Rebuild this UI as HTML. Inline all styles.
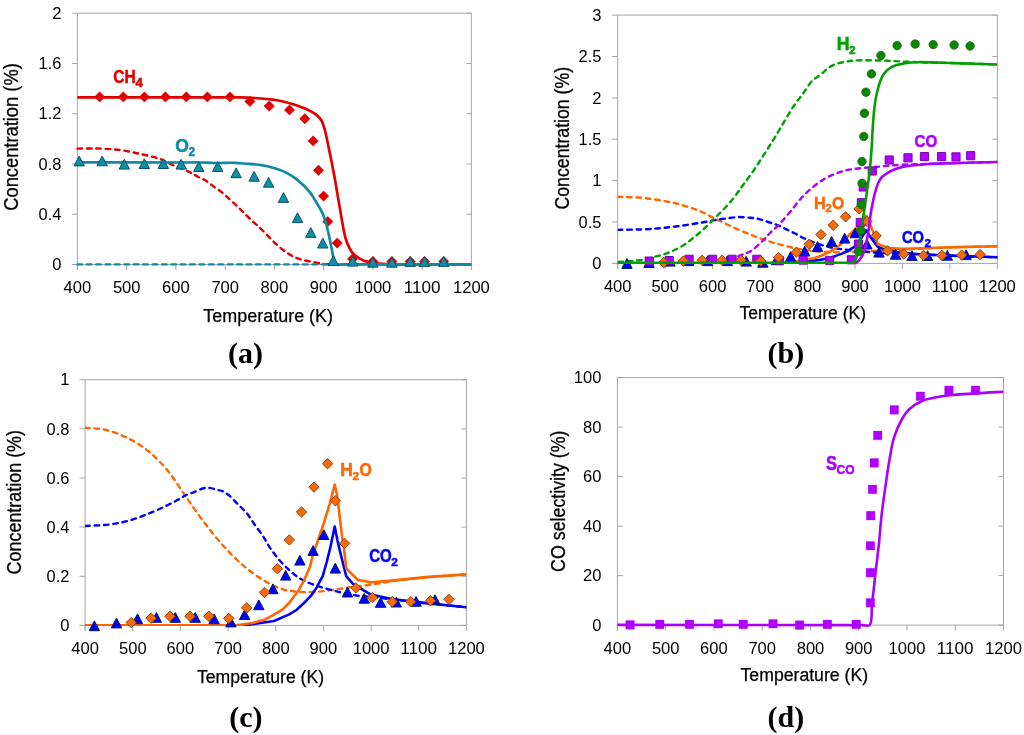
<!DOCTYPE html><html><head><meta charset="utf-8"><style>html,body{margin:0;padding:0;background:#fff;overflow:hidden}svg{display:block;will-change:transform}</style></head><body><svg width="1024" height="735" viewBox="0 0 1024 735" font-family='"Liberation Sans", sans-serif' fill="#000">
<rect width="1024" height="735" fill="#fff"/>
<path d="M77.4,13.2H471.4V264.5" fill="none" stroke="#a6a6a6" stroke-width="1"/>
<path d="M77.4,13.2V270M71.9,264.5H471.4" fill="none" stroke="#a6a6a6" stroke-width="1"/>
<text x="61.4" y="270.1" text-anchor="end" font-size="16" textLength="9.2" lengthAdjust="spacingAndGlyphs">0</text>
<text x="61.4" y="219.9" text-anchor="end" font-size="16" textLength="22.8" lengthAdjust="spacingAndGlyphs">0.4</text>
<text x="61.4" y="169.6" text-anchor="end" font-size="16" textLength="22.8" lengthAdjust="spacingAndGlyphs">0.8</text>
<text x="61.4" y="119.4" text-anchor="end" font-size="16" textLength="22.8" lengthAdjust="spacingAndGlyphs">1.2</text>
<text x="61.4" y="69.1" text-anchor="end" font-size="16" textLength="22.8" lengthAdjust="spacingAndGlyphs">1.6</text>
<text x="61.4" y="18.8" text-anchor="end" font-size="16" textLength="9.2" lengthAdjust="spacingAndGlyphs">2</text>
<text x="77.4" y="293.2" text-anchor="middle" font-size="16" textLength="27.6" lengthAdjust="spacingAndGlyphs">400</text>
<text x="126.7" y="293.2" text-anchor="middle" font-size="16" textLength="27.6" lengthAdjust="spacingAndGlyphs">500</text>
<text x="175.9" y="293.2" text-anchor="middle" font-size="16" textLength="27.6" lengthAdjust="spacingAndGlyphs">600</text>
<text x="225.2" y="293.2" text-anchor="middle" font-size="16" textLength="27.6" lengthAdjust="spacingAndGlyphs">700</text>
<text x="274.4" y="293.2" text-anchor="middle" font-size="16" textLength="27.6" lengthAdjust="spacingAndGlyphs">800</text>
<text x="323.6" y="293.2" text-anchor="middle" font-size="16" textLength="27.6" lengthAdjust="spacingAndGlyphs">900</text>
<text x="372.9" y="293.2" text-anchor="middle" font-size="16" textLength="36.8" lengthAdjust="spacingAndGlyphs">1000</text>
<text x="422.1" y="293.2" text-anchor="middle" font-size="16" textLength="36.8" lengthAdjust="spacingAndGlyphs">1100</text>
<text x="471.4" y="293.2" text-anchor="middle" font-size="16" textLength="36.8" lengthAdjust="spacingAndGlyphs">1200</text>
<path d="M71.9,264.5h5.5M466.4,264.5h5M71.9,214.2h5.5M466.4,214.2h5M71.9,164h5.5M466.4,164h5M71.9,113.7h5.5M466.4,113.7h5M71.9,63.5h5.5M466.4,63.5h5M71.9,13.2h5.5M466.4,13.2h5M77.4,264.5v5.5M126.7,264.5v5.5M175.9,264.5v5.5M225.2,264.5v5.5M274.4,264.5v5.5M323.6,264.5v5.5M372.9,264.5v5.5M422.1,264.5v5.5M471.4,264.5v5.5" fill="none" stroke="#a6a6a6" stroke-width="1"/>
<path d="M617.7,15.1H997.4V263.4" fill="none" stroke="#a6a6a6" stroke-width="1"/>
<path d="M617.7,15.1V268.9M612.2,263.4H997.4" fill="none" stroke="#a6a6a6" stroke-width="1"/>
<text x="601.4" y="269" text-anchor="end" font-size="16" textLength="9.2" lengthAdjust="spacingAndGlyphs">0</text>
<text x="601.4" y="227.7" text-anchor="end" font-size="16" textLength="22.8" lengthAdjust="spacingAndGlyphs">0.5</text>
<text x="601.4" y="186.3" text-anchor="end" font-size="16" textLength="9.2" lengthAdjust="spacingAndGlyphs">1</text>
<text x="601.4" y="144.9" text-anchor="end" font-size="16" textLength="22.8" lengthAdjust="spacingAndGlyphs">1.5</text>
<text x="601.4" y="103.5" text-anchor="end" font-size="16" textLength="9.2" lengthAdjust="spacingAndGlyphs">2</text>
<text x="601.4" y="62.1" text-anchor="end" font-size="16" textLength="22.8" lengthAdjust="spacingAndGlyphs">2.5</text>
<text x="601.4" y="20.7" text-anchor="end" font-size="16" textLength="9.2" lengthAdjust="spacingAndGlyphs">3</text>
<text x="617.7" y="291.6" text-anchor="middle" font-size="16" textLength="27.6" lengthAdjust="spacingAndGlyphs">400</text>
<text x="665.2" y="291.6" text-anchor="middle" font-size="16" textLength="27.6" lengthAdjust="spacingAndGlyphs">500</text>
<text x="712.6" y="291.6" text-anchor="middle" font-size="16" textLength="27.6" lengthAdjust="spacingAndGlyphs">600</text>
<text x="760.1" y="291.6" text-anchor="middle" font-size="16" textLength="27.6" lengthAdjust="spacingAndGlyphs">700</text>
<text x="807.5" y="291.6" text-anchor="middle" font-size="16" textLength="27.6" lengthAdjust="spacingAndGlyphs">800</text>
<text x="855" y="291.6" text-anchor="middle" font-size="16" textLength="27.6" lengthAdjust="spacingAndGlyphs">900</text>
<text x="902.5" y="291.6" text-anchor="middle" font-size="16" textLength="36.8" lengthAdjust="spacingAndGlyphs">1000</text>
<text x="949.9" y="291.6" text-anchor="middle" font-size="16" textLength="36.8" lengthAdjust="spacingAndGlyphs">1100</text>
<text x="997.4" y="291.6" text-anchor="middle" font-size="16" textLength="36.8" lengthAdjust="spacingAndGlyphs">1200</text>
<path d="M612.2,263.4h5.5M992.4,263.4h5M612.2,222h5.5M992.4,222h5M612.2,180.6h5.5M992.4,180.6h5M612.2,139.2h5.5M992.4,139.2h5M612.2,97.9h5.5M992.4,97.9h5M612.2,56.5h5.5M992.4,56.5h5M612.2,15.1h5.5M992.4,15.1h5M617.7,263.4v5.5M665.2,263.4v5.5M712.6,263.4v5.5M760.1,263.4v5.5M807.5,263.4v5.5M855,263.4v5.5M902.5,263.4v5.5M949.9,263.4v5.5M997.4,263.4v5.5" fill="none" stroke="#a6a6a6" stroke-width="1"/>
<path d="M85.1,379.7H466.4V625.4" fill="none" stroke="#a6a6a6" stroke-width="1"/>
<path d="M85.1,379.7V630.9M79.6,625.4H466.4" fill="none" stroke="#a6a6a6" stroke-width="1"/>
<text x="69.4" y="631" text-anchor="end" font-size="16" textLength="9.2" lengthAdjust="spacingAndGlyphs">0</text>
<text x="69.4" y="581.9" text-anchor="end" font-size="16" textLength="22.8" lengthAdjust="spacingAndGlyphs">0.2</text>
<text x="69.4" y="532.8" text-anchor="end" font-size="16" textLength="22.8" lengthAdjust="spacingAndGlyphs">0.4</text>
<text x="69.4" y="483.6" text-anchor="end" font-size="16" textLength="22.8" lengthAdjust="spacingAndGlyphs">0.6</text>
<text x="69.4" y="434.5" text-anchor="end" font-size="16" textLength="22.8" lengthAdjust="spacingAndGlyphs">0.8</text>
<text x="69.4" y="385.3" text-anchor="end" font-size="16" textLength="9.2" lengthAdjust="spacingAndGlyphs">1</text>
<text x="85.1" y="653.6" text-anchor="middle" font-size="16" textLength="27.6" lengthAdjust="spacingAndGlyphs">400</text>
<text x="132.8" y="653.6" text-anchor="middle" font-size="16" textLength="27.6" lengthAdjust="spacingAndGlyphs">500</text>
<text x="180.4" y="653.6" text-anchor="middle" font-size="16" textLength="27.6" lengthAdjust="spacingAndGlyphs">600</text>
<text x="228.1" y="653.6" text-anchor="middle" font-size="16" textLength="27.6" lengthAdjust="spacingAndGlyphs">700</text>
<text x="275.8" y="653.6" text-anchor="middle" font-size="16" textLength="27.6" lengthAdjust="spacingAndGlyphs">800</text>
<text x="323.4" y="653.6" text-anchor="middle" font-size="16" textLength="27.6" lengthAdjust="spacingAndGlyphs">900</text>
<text x="371.1" y="653.6" text-anchor="middle" font-size="16" textLength="36.8" lengthAdjust="spacingAndGlyphs">1000</text>
<text x="418.7" y="653.6" text-anchor="middle" font-size="16" textLength="36.8" lengthAdjust="spacingAndGlyphs">1100</text>
<text x="466.4" y="653.6" text-anchor="middle" font-size="16" textLength="36.8" lengthAdjust="spacingAndGlyphs">1200</text>
<path d="M79.6,625.4h5.5M461.4,625.4h5M79.6,576.3h5.5M461.4,576.3h5M79.6,527.1h5.5M461.4,527.1h5M79.6,478h5.5M461.4,478h5M79.6,428.8h5.5M461.4,428.8h5M79.6,379.7h5.5M461.4,379.7h5M85.1,625.4v5.5M132.8,625.4v5.5M180.4,625.4v5.5M228.1,625.4v5.5M275.8,625.4v5.5M323.4,625.4v5.5M371.1,625.4v5.5M418.7,625.4v5.5M466.4,625.4v5.5" fill="none" stroke="#a6a6a6" stroke-width="1"/>
<path d="M617.4,377.6H1003.5V625.1" fill="none" stroke="#a6a6a6" stroke-width="1"/>
<path d="M617.4,377.6V630.6M617.4,625.1H1003.5" fill="none" stroke="#a6a6a6" stroke-width="1"/>
<text x="601.4" y="630.8" text-anchor="end" font-size="16" textLength="9.2" lengthAdjust="spacingAndGlyphs">0</text>
<text x="601.4" y="581.2" text-anchor="end" font-size="16" textLength="18.4" lengthAdjust="spacingAndGlyphs">20</text>
<text x="601.4" y="531.8" text-anchor="end" font-size="16" textLength="18.4" lengthAdjust="spacingAndGlyphs">40</text>
<text x="601.4" y="482.2" text-anchor="end" font-size="16" textLength="18.4" lengthAdjust="spacingAndGlyphs">60</text>
<text x="601.4" y="432.8" text-anchor="end" font-size="16" textLength="18.4" lengthAdjust="spacingAndGlyphs">80</text>
<text x="601.4" y="383.2" text-anchor="end" font-size="16" textLength="27.6" lengthAdjust="spacingAndGlyphs">100</text>
<text x="617.4" y="653.6" text-anchor="middle" font-size="16" textLength="27.6" lengthAdjust="spacingAndGlyphs">400</text>
<text x="665.7" y="653.6" text-anchor="middle" font-size="16" textLength="27.6" lengthAdjust="spacingAndGlyphs">500</text>
<text x="713.9" y="653.6" text-anchor="middle" font-size="16" textLength="27.6" lengthAdjust="spacingAndGlyphs">600</text>
<text x="762.2" y="653.6" text-anchor="middle" font-size="16" textLength="27.6" lengthAdjust="spacingAndGlyphs">700</text>
<text x="810.5" y="653.6" text-anchor="middle" font-size="16" textLength="27.6" lengthAdjust="spacingAndGlyphs">800</text>
<text x="858.7" y="653.6" text-anchor="middle" font-size="16" textLength="27.6" lengthAdjust="spacingAndGlyphs">900</text>
<text x="907" y="653.6" text-anchor="middle" font-size="16" textLength="36.8" lengthAdjust="spacingAndGlyphs">1000</text>
<text x="955.2" y="653.6" text-anchor="middle" font-size="16" textLength="36.8" lengthAdjust="spacingAndGlyphs">1100</text>
<text x="1003.5" y="653.6" text-anchor="middle" font-size="16" textLength="36.8" lengthAdjust="spacingAndGlyphs">1200</text>
<path d="M617.4,625.1h5.5M998.5,625.1h5M617.4,575.6h5.5M998.5,575.6h5M617.4,526.1h5.5M998.5,526.1h5M617.4,476.6h5.5M998.5,476.6h5M617.4,427.1h5.5M998.5,427.1h5M617.4,377.6h5.5M998.5,377.6h5M617.4,625.1v5.5M665.7,625.1v5.5M713.9,625.1v5.5M762.2,625.1v5.5M810.5,625.1v5.5M858.7,625.1v5.5M907,625.1v5.5M955.2,625.1v5.5M1003.5,625.1v5.5" fill="none" stroke="#a6a6a6" stroke-width="1"/>
<text transform="translate(17.8,137) rotate(-90)" text-anchor="middle" font-size="19.5" stroke="#000" stroke-width="0.3" textLength="147.5" lengthAdjust="spacingAndGlyphs">Concentration (%)</text>
<text transform="translate(568.8,138.2) rotate(-90)" text-anchor="middle" font-size="19.5" stroke="#000" stroke-width="0.3" textLength="142.6" lengthAdjust="spacingAndGlyphs">Concentration (%)</text>
<text transform="translate(20.8,502.2) rotate(-90)" text-anchor="middle" font-size="19.5" stroke="#000" stroke-width="0.3" textLength="144.4" lengthAdjust="spacingAndGlyphs">Concentration (%)</text>
<text transform="translate(565,501.2) rotate(-90)" text-anchor="middle" font-size="19.5" stroke="#000" stroke-width="0.3" textLength="141.4" lengthAdjust="spacingAndGlyphs">CO selectivity (%)</text>
<text x="268.2" y="321.6" text-anchor="middle" font-size="18" stroke="#000" stroke-width="0.25" textLength="129.7" lengthAdjust="spacingAndGlyphs">Temperature (K)</text>
<text x="802.8" y="318.8" text-anchor="middle" font-size="18" stroke="#000" stroke-width="0.25" textLength="126.6" lengthAdjust="spacingAndGlyphs">Temperature (K)</text>
<text x="260.5" y="683.1" text-anchor="middle" font-size="18" stroke="#000" stroke-width="0.25" textLength="127.2" lengthAdjust="spacingAndGlyphs">Temperature (K)</text>
<text x="804.3" y="681.2" text-anchor="middle" font-size="18" stroke="#000" stroke-width="0.25" textLength="127.5" lengthAdjust="spacingAndGlyphs">Temperature (K)</text>
<text x="245.6" y="362.5" text-anchor="middle" font-family='"Liberation Serif", serif' font-weight="bold" font-size="30">(a)</text>
<text x="785.8" y="362.5" text-anchor="middle" font-family='"Liberation Serif", serif' font-weight="bold" font-size="30">(b)</text>
<text x="245.8" y="726.6" text-anchor="middle" font-family='"Liberation Serif", serif' font-weight="bold" font-size="30">(c)</text>
<text x="785.8" y="726.6" text-anchor="middle" font-family='"Liberation Serif", serif' font-weight="bold" font-size="30">(d)</text>
<g>
<path d="M77.4,148.6C85.2,148.6 93.3,148.3 100.8,148.6C107.9,148.9 114.5,149.3 121.3,150.2C128.2,151.2 135.2,152.8 141.8,154.3C148.1,155.7 154.6,157.1 160,159C164.6,160.6 167.8,162.8 172.2,164.7C177.2,166.9 184.1,169.4 188.6,171.6C191.8,173.2 193.9,174.6 196.7,176.1C199.6,177.6 202.8,178.8 205.7,180.6C208.6,182.4 211.2,184.7 213.9,186.7C216.6,188.7 219.4,190.3 222,192.4C224.8,194.6 227.5,197.4 230.2,199.8C232.7,202.1 235.4,204.5 237.6,206.6C239.5,208.4 240.9,209.8 242.8,211.7C245.1,214 248,217 250.6,219.5C253.2,221.9 255.7,223.9 258.4,226.4C261.5,229.3 265,232.9 268.2,236.1C271.2,239.1 273.9,242.1 277,244.9C280.1,247.7 283.5,250.5 286.8,252.7C289.7,254.7 292.6,256.3 295.5,257.6C298.1,258.7 300.6,259.4 303.4,260.1C306.4,260.9 309.9,261.4 313.1,262C316.4,262.6 319.2,263.4 322.9,263.8C327.8,264.3 334.3,264.1 340,264.3" fill="none" stroke="#e00000" stroke-width="2.4" stroke-linejoin="round" stroke-dasharray="4.6 4.8" stroke-linecap="round"/>
<path d="M77.4,264.4L471.4,264.4" fill="none" stroke="#0e8aa3" stroke-width="2.4" stroke-linejoin="round" stroke-dasharray="4.6 4.8" stroke-linecap="round"/>
<path d="M77.4,97.3C128.3,97.3 209.3,97.4 230,97.4C235.3,97.4 236.1,97.3 240,97.4C245.7,97.5 255,98 261,98.5C265.5,98.8 268.9,99.2 272.7,99.7C276.3,100.2 279.5,100.7 283,101.5C286.6,102.3 290.3,103.3 293.9,104.5C297.6,105.7 301.3,106.9 305,108.6C308.9,110.4 313.8,112.7 316.7,115.1C318.9,116.9 320.3,118.6 321.6,120.8C323,123.2 323.7,125.8 324.6,129C325.9,133.5 326.9,138.9 328.2,145.3C330.1,154.3 332.7,167.2 334.7,178C336.6,188.5 338.1,198.7 340,209C341.9,219.4 343.5,232.4 346.2,240.3C348.1,245.6 349.6,249.4 352.5,252.8C355.3,256.1 359.4,258.8 363.4,260.6C367.3,262.3 371.1,262.8 376,263.4C382.7,264.3 389.9,264.1 400,264.3C417.5,264.7 447.6,264.4 471.4,264.5" fill="none" stroke="#e00000" stroke-width="2.7" stroke-linejoin="round" stroke-linecap="butt"/>
<path d="M99.7,91.7l5.2,5.2l-5.2,5.2l-5.2,-5.2ZM123.3,91.7l5.2,5.2l-5.2,5.2l-5.2,-5.2ZM144.4,91.7l5.2,5.2l-5.2,5.2l-5.2,-5.2ZM165.4,91.7l5.2,5.2l-5.2,5.2l-5.2,-5.2ZM186.3,91.7l5.2,5.2l-5.2,5.2l-5.2,-5.2ZM207.4,91.7l5.2,5.2l-5.2,5.2l-5.2,-5.2ZM230,91.7l5.2,5.2l-5.2,5.2l-5.2,-5.2ZM249.9,96.2l5.2,5.2l-5.2,5.2l-5.2,-5.2ZM269.2,100.9l5.2,5.2l-5.2,5.2l-5.2,-5.2ZM289.5,104.7l5.2,5.2l-5.2,5.2l-5.2,-5.2ZM304.8,113.5l5.2,5.2l-5.2,5.2l-5.2,-5.2ZM313.1,135.7l5.2,5.2l-5.2,5.2l-5.2,-5.2ZM318.5,165.1l5.2,5.2l-5.2,5.2l-5.2,-5.2ZM323.6,190.9l5.2,5.2l-5.2,5.2l-5.2,-5.2ZM327.8,216.4l5.2,5.2l-5.2,5.2l-5.2,-5.2ZM337.2,237.9l5.2,5.2l-5.2,5.2l-5.2,-5.2ZM352.5,253.8l5.2,5.2l-5.2,5.2l-5.2,-5.2ZM372.9,256.2l5.2,5.2l-5.2,5.2l-5.2,-5.2ZM391.9,256.2l5.2,5.2l-5.2,5.2l-5.2,-5.2ZM410.2,256.2l5.2,5.2l-5.2,5.2l-5.2,-5.2ZM424.5,256.2l5.2,5.2l-5.2,5.2l-5.2,-5.2ZM443.7,256.2l5.2,5.2l-5.2,5.2l-5.2,-5.2Z" fill="#e00000" stroke="#e00000" stroke-width="0.5"/>
<path d="M77.4,162.4C114.9,162.4 172.8,162.5 190,162.5C195.1,162.5 196.2,162.4 200,162.5C205,162.6 211.7,163 217.6,163C223.5,163 230.3,162.6 235.2,162.8C238.6,162.9 240.6,163.2 244,163.5C248.8,163.9 256.1,164.2 261.5,165.1C266.2,165.9 270.5,166.9 274.7,168.2C278.7,169.4 282.4,170.7 286.1,172.6C289.9,174.5 293.4,176.7 297.1,179.6C301.5,183.1 307.2,189 310.2,192.7C312.1,195.1 312.7,196.4 314.3,199C316.7,202.9 320.5,208.4 322.8,213.8C325.3,219.5 326.6,225.7 328.3,232.5C330.3,240.5 332.3,253.6 333.8,259C334.4,261.5 334.2,263.3 335.6,264.3C337.4,265.6 340.1,264.4 345,264.4C363.1,264.5 429.3,264.4 471.4,264.4" fill="none" stroke="#0e8aa3" stroke-width="2.7" stroke-linejoin="round" stroke-linecap="butt"/>
<path d="M79.2,156.1L84.4,165.9H74ZM102.2,156L107.4,165.8H97ZM124.3,159.3L129.5,169.1H119.1ZM144.3,158.7L149.5,168.5H139.1ZM163.3,158.7L168.5,168.5H158.1ZM181.2,159.3L186.4,169.1H176ZM198.8,161.7L204,171.5H193.6ZM217.7,161.7L222.9,171.5H212.5ZM236.1,167.9L241.3,177.7H230.9ZM254.1,171.4L259.3,181.2H248.9ZM268.6,177.4L273.8,187.2H263.4ZM283.5,192.6L288.7,202.4H278.3ZM297.5,212.8L302.7,222.6H292.3ZM310.8,227.6L316,237.4H305.6ZM322.8,238.2L328,248H317.6ZM333.3,255.7L338.5,265.5H328.1ZM352.8,256.3L358,266.1H347.6ZM372.9,257.4L378.1,267.2H367.7ZM391.9,257.4L397.1,267.2H386.7ZM410.2,256.6L415.4,266.4H405ZM424.5,256.6L429.7,266.4H419.3ZM443.7,256.6L448.9,266.4H438.5Z" fill="#0f8ea6" stroke="#0b5566" stroke-width="1" stroke-linejoin="miter"/>
<text x="113.3" y="83.3" fill="#e00000" font-size="19" font-weight="bold" stroke="#e00000" stroke-width="0.5" textLength="22.5" lengthAdjust="spacingAndGlyphs">CH</text>
<text x="135.6" y="87.2" fill="#e00000" font-size="12" font-weight="bold" stroke="#e00000" stroke-width="0.5" textLength="7.3" lengthAdjust="spacingAndGlyphs">4</text>
<text x="175.2" y="152.3" fill="#0e8aa3" font-size="19" font-weight="bold" stroke="#0e8aa3" stroke-width="0.5" textLength="13.6" lengthAdjust="spacingAndGlyphs">O</text>
<text x="188.6" y="155.9" fill="#0e8aa3" font-size="12" font-weight="bold" stroke="#0e8aa3" stroke-width="0.5" textLength="6.6" lengthAdjust="spacingAndGlyphs">2</text>
</g>
<defs><clipPath id="cb"><rect x="617.7" y="15.1" width="379.7" height="248.9"/></clipPath><clipPath id="cc"><rect x="85.1" y="379.7" width="381.3" height="246.3"/></clipPath></defs>
<path d="M85.1,427.8C91.9,428.5 98.5,428.2 105.4,429.8C113,431.6 121.5,434.9 128.8,438.6C135.8,442.1 142.1,446.2 148.4,451.2C155.2,456.8 161.9,463.6 167.9,470.8C174.3,478.5 179.5,487.6 185.5,496.2C191.8,505.2 198.5,515 205,523.5C210.9,531.2 216.9,538.6 222.6,545C227.6,550.6 232.6,555.7 237.2,560C240.9,563.5 243.6,566 247.7,569.1C252.7,573 259.3,578 265.4,581.4C271.2,584.7 277.1,587.6 283.1,589.4C288.9,591.1 294.9,591.6 300.8,592C306.7,592.4 312.5,592.1 318.4,591.7C324.3,591.3 330.2,590.2 336.1,589.4C342,588.6 347.9,587.6 353.8,586.8C359.7,586 365.4,585.5 371.5,584.6C378,583.7 383.9,582.4 391.5,581.3C401.4,579.9 413.8,578.4 425.7,577.3C438.7,576.1 452.8,575.5 466.4,574.6" fill="none" stroke="#ff6600" stroke-width="2.4" stroke-linejoin="round" stroke-dasharray="4.6 4.8" stroke-linecap="round" clip-path="url(#cc)"/>
<path d="M85.1,526C93.2,525.5 101.7,525.5 109.3,524.5C116.2,523.6 122.4,522.4 128.8,520.6C135.4,518.8 141.9,516.3 148.4,513.8C155,511.1 162.2,507.8 167.9,505C172.4,502.8 176.8,500.5 180,498.7C182.2,497.5 183.3,496.4 185.4,495.4C187.9,494.2 191,493.3 194.1,492.1C197.8,490.7 202.1,488.1 206.1,487.8C210.1,487.5 214.9,489.2 218.1,490C220.3,490.5 221.8,490.8 223.5,491.6C225.4,492.5 227,493.7 229,495.4C231.9,497.8 235.7,502.1 238.8,505.2C241.5,507.9 244,509.9 246.4,512.8C249.1,516 251.4,520 254,523.7C256.8,527.6 260,531.6 262.7,535.7C265.3,539.7 267.3,543.8 270,547.8C272.9,552.1 276.4,556.6 279.8,560.5C282.9,564.1 286.2,567.3 289.5,570.3C292.7,573.2 295.9,575.9 299.3,578.1C302.5,580.1 305.8,581.6 309.1,583C312.3,584.4 315.5,585.3 318.8,586.4C322,587.4 325.3,588.4 328.6,589.3C331.9,590.2 335.1,591 338.4,591.8C341.6,592.6 344.8,593.5 348.1,594.2C351.3,594.8 354.6,595.3 357.9,595.7C361.2,596.1 363.7,596.2 367.7,596.6C373.9,597.2 382.8,598.3 391.5,599.3C401.9,600.5 413.8,601.9 425.7,603.2C438.7,604.6 452.8,605.9 466.4,607.3" fill="none" stroke="#0000ff" stroke-width="2.4" stroke-linejoin="round" stroke-dasharray="4.6 4.8" stroke-linecap="round" clip-path="url(#cc)"/>
<path d="M85.1,625.4L244.6,625.4L274,621L288.7,614.6L296.4,610L304,603L311,595.7L315.9,588.8L322.7,576.1L326.6,562.5L330.5,546.8L334.7,526.5L337.6,541L340.3,552.7L346.2,576.1L353,583.9L370,594.2L391.5,599L425.7,603.1L466.4,607.2" fill="none" stroke="#0000ff" stroke-width="2.6" stroke-linejoin="round" stroke-linecap="butt" clip-path="url(#cc)"/>
<path d="M85.1,625.4L236,625.4L253,623L265,619.5L274,614.6L282.7,609.3L289.5,602.5L298.3,590.8L304.2,580L310,566.4L313,554.6L316.4,545L324,522.6L329.8,503.6L334.7,484.5L336.9,494L339.3,513.1L342.1,536.9L344.2,549.8L346.2,568.3L357.9,580L371,582.3L391.5,580.6L425.7,577.1L466.4,574.4" fill="none" stroke="#ff6600" stroke-width="2.6" stroke-linejoin="round" stroke-linecap="butt" clip-path="url(#cc)"/>
<path d="M94.4,620.9L99.6,630.7H89.2ZM116.5,618.1L121.7,627.9H111.3ZM137.5,613.9L142.7,623.7H132.3ZM156.4,612.5L161.6,622.3H151.2ZM175.3,612.5L180.5,622.3H170.1ZM195.2,612.5L200.4,622.3H190ZM214.1,613.9L219.3,623.7H208.9ZM230.9,617.1L236.1,626.9H225.7ZM244.6,609.7L249.8,619.5H239.4ZM258.8,599.9L264,609.7H253.6ZM272.9,583.9L278.1,593.7H267.7ZM285.7,570.4L290.9,580.1H280.5ZM299.9,555.3L305.1,565.1H294.7ZM313.1,545.6L318.3,555.4H307.9ZM323.8,529.7L328.9,539.5H318.6ZM335.3,563.3L340.5,573.1H330.1ZM347.5,587.2L352.7,597H342.3ZM364.2,593.4L369.4,603.2H359ZM380.6,597.5L385.8,607.3H375.4ZM396.3,597.2L401.5,607H391.1ZM416.1,596.5L421.3,606.3H410.9ZM435,594.7L440.2,604.5H429.8Z" fill="#0000ff" stroke="#001f5c" stroke-width="1" stroke-linejoin="miter"/>
<path d="M131.2,617.4l5.2,5.2l-5.2,5.2l-5.2,-5.2ZM151.1,613l5.2,5.2l-5.2,5.2l-5.2,-5.2ZM170,611.1l5.2,5.2l-5.2,5.2l-5.2,-5.2ZM190,611.1l5.2,5.2l-5.2,5.2l-5.2,-5.2ZM208.9,611.1l5.2,5.2l-5.2,5.2l-5.2,-5.2ZM228.8,613.2l5.2,5.2l-5.2,5.2l-5.2,-5.2ZM246.7,602.7l5.2,5.2l-5.2,5.2l-5.2,-5.2ZM264.5,587.2l5.2,5.2l-5.2,5.2l-5.2,-5.2ZM277.4,563.5l5.2,5.2l-5.2,5.2l-5.2,-5.2ZM289.3,534.7l5.2,5.2l-5.2,5.2l-5.2,-5.2ZM301.5,506.8l5.2,5.2l-5.2,5.2l-5.2,-5.2ZM314,481.9l5.2,5.2l-5.2,5.2l-5.2,-5.2ZM327.6,458.5l5.2,5.2l-5.2,5.2l-5.2,-5.2ZM335.4,495.6l5.2,5.2l-5.2,5.2l-5.2,-5.2ZM344.6,538.2l5.2,5.2l-5.2,5.2l-5.2,-5.2ZM356,582.8l5.2,5.2l-5.2,5.2l-5.2,-5.2ZM372.4,592.4l5.2,5.2l-5.2,5.2l-5.2,-5.2ZM392.2,596.5l5.2,5.2l-5.2,5.2l-5.2,-5.2ZM410.7,596.5l5.2,5.2l-5.2,5.2l-5.2,-5.2ZM430.5,595.5l5.2,5.2l-5.2,5.2l-5.2,-5.2ZM449,594.2l5.2,5.2l-5.2,5.2l-5.2,-5.2Z" fill="#f56a0c" stroke="#8f3f08" stroke-width="0.95"/>
<text x="340.3" y="475.9" fill="#ff6600" font-size="17.5" font-weight="bold" stroke="#ff6600" stroke-width="0.5" textLength="12.5" lengthAdjust="spacingAndGlyphs">H</text>
<text x="352.5" y="479.8" fill="#ff6600" font-size="11.5" font-weight="bold" stroke="#ff6600" stroke-width="0.5" textLength="6.6" lengthAdjust="spacingAndGlyphs">2</text>
<text x="359.5" y="475.9" fill="#ff6600" font-size="17.5" font-weight="bold" stroke="#ff6600" stroke-width="0.5" textLength="12.3" lengthAdjust="spacingAndGlyphs">O</text>
<text x="369.2" y="561.5" fill="#0000ff" font-size="17.5" font-weight="bold" stroke="#0000ff" stroke-width="0.5" textLength="22.5" lengthAdjust="spacingAndGlyphs">CO</text>
<text x="391.3" y="565.5" fill="#0000ff" font-size="11.5" font-weight="bold" stroke="#0000ff" stroke-width="0.5" textLength="6.6" lengthAdjust="spacingAndGlyphs">2</text>
<path d="M617.7,196.8C624.4,197.1 631,197 637.9,197.5C645.4,198.1 653.8,199.2 661.2,200.5C668,201.7 674.3,202.9 680.7,204.7C687.3,206.6 693.9,208.8 700.2,211.3C706.2,213.8 711.7,217 717.7,219.9C724,222.9 730.8,226.3 737.1,229.1C743.1,231.7 749,234.2 754.6,236.3C759.7,238.2 764.7,239.9 769.2,241.4C772.9,242.6 775.7,243.4 779.6,244.4C784.7,245.8 791.3,247.4 797.2,248.6C803.1,249.7 809,250.7 814.9,251.3C820.7,251.9 826.6,252 832.5,252.1C838.3,252.3 844.2,252.2 850,252C855.9,251.9 861.8,251.6 867.6,251.3C873.5,251 879.4,250.6 885.3,250.4C891.1,250.1 896.8,249.9 902.9,249.7C909.3,249.3 915.3,248.9 922.8,248.5C932.7,248.1 945,247.6 956.9,247.2C969.8,246.8 983.9,246.6 997.4,246.3" fill="none" stroke="#ff6600" stroke-width="2.4" stroke-linejoin="round" stroke-dasharray="4.6 4.8" stroke-linecap="round" clip-path="url(#cb)"/>
<path d="M617.7,229.9C625.7,229.7 634.2,229.7 641.8,229.4C648.6,229.1 654.7,228.7 661.2,228.1C667.7,227.5 674.2,226.7 680.7,225.8C687.2,224.9 694.5,223.8 700.2,222.8C704.7,222.1 709,221.3 712.2,220.7C714.4,220.3 715.6,219.9 717.6,219.6C720.1,219.2 723.1,218.9 726.2,218.5C729.9,218 734.2,217.2 738.2,217C742.2,216.9 746.9,217.5 750.1,217.8C752.3,218 753.7,218 755.5,218.3C757.3,218.6 758.9,219 761,219.6C763.8,220.4 767.7,221.9 770.8,222.9C773.4,223.8 775.8,224.4 778.3,225.5C780.9,226.5 783.3,227.9 785.9,229.1C788.7,230.5 791.8,231.8 794.6,233.2C797.1,234.5 799.2,235.9 801.8,237.3C804.8,238.7 808.3,240.3 811.6,241.5C814.8,242.8 818,243.8 821.2,244.8C824.5,245.8 827.7,246.8 831,247.5C834.2,248.2 837.5,248.6 840.8,249.1C844,249.6 847.2,249.9 850.4,250.3C853.7,250.6 856.9,250.9 860.2,251.2C863.4,251.5 866.7,251.8 869.9,252.1C873.2,252.4 876.4,252.7 879.6,252.9C882.8,253.1 886.1,253.3 889.4,253.4C892.6,253.5 895.2,253.6 899.1,253.7C905.3,253.9 914.2,254.3 922.8,254.6C933.1,255 945,255.5 956.9,255.9C969.8,256.4 983.9,256.8 997.4,257.3" fill="none" stroke="#0000ff" stroke-width="2.4" stroke-linejoin="round" stroke-dasharray="4.6 4.8" stroke-linecap="round" clip-path="url(#cb)"/>
<path d="M618.2,262C623.5,261.6 629.5,261.1 634,260.7C637.4,260.4 639.8,260.3 642.8,259.8C646.2,259.2 649.7,258 653.3,257.1C657,256.1 661.2,255.3 664.7,254.1C667.9,253 670.4,251.9 673.5,250.5C677,248.8 680.9,246.9 684.5,244.6C688.2,242.2 691.9,239 695.4,236.2C698.7,233.5 701.8,230.9 704.9,228C708.1,225 711.2,221.7 714.4,218.5C717.6,215.3 720.8,212.3 723.9,209C727.1,205.5 730.6,201.7 733.5,198.1C736.2,194.8 738.6,191.2 740.7,188.3C742.4,185.9 743.8,184 745.4,181.8C747.2,179.4 749.1,176.9 750.9,174.4C752.7,171.8 754.6,169.1 756.3,166.5C758,164 759.5,161.5 761.1,159C762.8,156.4 764.5,153.8 766.2,151.2C767.9,148.5 769.6,145.8 771.3,143.1C772.9,140.5 774.2,138.5 776,135.5C778.6,131.3 782.1,125.1 785.2,120C788.2,115 791.2,109.7 794.3,105.2C797.1,101.1 800,97.8 802.9,93.8C806,89.6 809.1,83.7 812.4,80.5C814.9,78.1 817.5,77.1 820,75.2C822.6,73.2 825,70.5 827.6,68.6C830,66.9 832.4,65.4 835.2,64.3C838.1,63.1 841.6,62.5 844.8,61.9C848,61.3 850.3,60.8 854.3,60.5C861.2,60 872.8,60.4 882.3,60.6C892.3,60.8 902,61.6 913,62C925.7,62.5 940.2,62.7 954.1,63.1C968.3,63.5 983,64 997.4,64.5" fill="none" stroke="#00a000" stroke-width="2.4" stroke-linejoin="round" stroke-dasharray="4.6 4.8" stroke-linecap="round" clip-path="url(#cb)"/>
<path d="M617.7,263.4C650.1,263.4 699.3,263.4 715,263.3C720,263.3 721.5,264.1 725,263.2C729.6,262.1 735.1,257.8 739.7,255.7C743.5,253.9 746.9,253.4 750.5,251.2C754.8,248.6 759.6,243.7 763.1,240.3C765.8,237.7 767.5,235.5 770,233C772.9,230.1 776.3,227.5 779.6,224C783.7,219.7 788.5,213.7 792.6,208.8C796.4,204.3 799.7,199.6 803.5,195.7C807,192.1 810.7,188.9 814.4,185.9C817.9,183.1 821.6,180.4 825.3,178.3C828.8,176.3 832.5,174.8 836.2,173.4C839.8,172.1 843.4,170.9 847,170.1C850.6,169.3 854.1,169 857.9,168.5C862.1,168 866.6,167.7 871.2,167.3C876.3,166.9 881.7,166.3 886.9,165.9C892.1,165.5 896.8,165 902.5,164.7C909.5,164.3 917.1,164.3 925.9,164C937.3,163.7 952.6,163.1 965,162.8C976.3,162.5 986.6,162.3 997.4,162" fill="none" stroke="#a900ff" stroke-width="2.4" stroke-linejoin="round" stroke-dasharray="4.6 4.8" stroke-linecap="round" clip-path="url(#cb)"/>
<path d="M617.7,263.4L776.5,263.4L805.8,261.9L820.4,259.8L828.1,258.2L835.7,255.9L842.7,253.4L847.5,251.1L854.3,246.8L858.2,242.2L862.1,236.9L866.3,230.1L869.1,235L871.8,238.9L877.7,246.8L884.5,249.4L901.4,252.9L922.8,254.5L956.9,255.9L997.4,257.3" fill="none" stroke="#0000ff" stroke-width="2.6" stroke-linejoin="round" stroke-linecap="butt" clip-path="url(#cb)"/>
<path d="M617.7,263.4L768,263.4L784.9,262.6L796.8,261.4L805.8,259.8L814.5,258L821.2,255.7L830,251.7L835.9,248.1L841.7,243.5L844.6,239.6L848,236.3L855.6,228.8L861.4,222.4L866.3,215.9L868.4,219.1L870.8,225.6L873.6,233.6L875.7,237.9L877.7,244.2L889.4,248.1L902.4,248.9L922.8,248.3L956.9,247.1L997.4,246.2" fill="none" stroke="#ff6600" stroke-width="2.6" stroke-linejoin="round" stroke-linecap="butt" clip-path="url(#cb)"/>
<path d="M627,258.6L632.2,268.4H621.8ZM649,257.7L654.2,267.5H643.8ZM669.9,256.3L675.1,266.1H664.7ZM688.7,255.8L693.9,265.6H683.5ZM707.5,255.8L712.7,265.6H702.3ZM727.3,255.8L732.5,265.6H722.1ZM746.2,256.3L751.4,266.1H741ZM762.9,257.4L768.1,267.2H757.7ZM776.5,254.9L781.7,264.7H771.3ZM790.7,251.6L795.9,261.4H785.5ZM804.7,246.2L809.9,256H799.5ZM817.5,241.6L822.7,251.4H812.3ZM831.6,236.5L836.8,246.3H826.4ZM844.7,233.3L849.9,243.1H839.5ZM855.3,227.9L860.5,237.7H850.1ZM866.9,239.2L872.1,249H861.7ZM879,247.3L884.2,257.1H873.8ZM895.6,249.4L900.8,259.2H890.4ZM912,250.8L917.2,260.6H906.8ZM927.6,250.7L932.8,260.5H922.4ZM947.3,250.4L952.5,260.2H942.1ZM966.1,249.8L971.3,259.6H960.9Z" fill="#0000ff" stroke="#001f5c" stroke-width="1" stroke-linejoin="miter"/>
<path d="M645.2,257h8.2v8.2h-8.2ZM665.1,256.5h8.2v8.2h-8.2ZM685,255.2h8.2v8.2h-8.2ZM708.5,255.2h8.2v8.2h-8.2ZM728,255.2h8.2v8.2h-8.2ZM752.7,255.2h8.2v8.2h-8.2ZM775.4,256.5h8.2v8.2h-8.2ZM799,256h8.2v8.2h-8.2ZM825.6,256.4h8.2v8.2h-8.2ZM847.3,255.7h8.2v8.2h-8.2ZM854.5,240h8.2v8.2h-8.2ZM856.2,218.3h8.2v8.2h-8.2ZM857.3,198.6h8.2v8.2h-8.2ZM859.2,182.9h8.2v8.2h-8.2ZM868.2,166.9h8.2v8.2h-8.2ZM885.1,155.9h8.2v8.2h-8.2ZM903.9,153.7h8.2v8.2h-8.2ZM920.3,152.5h8.2v8.2h-8.2ZM937.5,152.5h8.2v8.2h-8.2ZM951.9,152.8h8.2v8.2h-8.2ZM966.6,151.6h8.2v8.2h-8.2Z" fill="#b000ff" stroke="#6e00a6" stroke-width="0.9"/>
<path d="M663.6,257.3l5.2,5.2l-5.2,5.2l-5.2,-5.2ZM683.4,255.8l5.2,5.2l-5.2,5.2l-5.2,-5.2ZM702.2,255.1l5.2,5.2l-5.2,5.2l-5.2,-5.2ZM722.2,255.1l5.2,5.2l-5.2,5.2l-5.2,-5.2ZM741,255.1l5.2,5.2l-5.2,5.2l-5.2,-5.2ZM760.8,255.8l5.2,5.2l-5.2,5.2l-5.2,-5.2ZM778.6,252.3l5.2,5.2l-5.2,5.2l-5.2,-5.2ZM796.3,247.1l5.2,5.2l-5.2,5.2l-5.2,-5.2ZM809.2,239.1l5.2,5.2l-5.2,5.2l-5.2,-5.2ZM821,229.4l5.2,5.2l-5.2,5.2l-5.2,-5.2ZM833.2,220l5.2,5.2l-5.2,5.2l-5.2,-5.2ZM845.6,211.6l5.2,5.2l-5.2,5.2l-5.2,-5.2ZM859.2,203.7l5.2,5.2l-5.2,5.2l-5.2,-5.2ZM866.9,216.2l5.2,5.2l-5.2,5.2l-5.2,-5.2ZM876.1,230.6l5.2,5.2l-5.2,5.2l-5.2,-5.2ZM887.5,245.6l5.2,5.2l-5.2,5.2l-5.2,-5.2ZM903.8,248.8l5.2,5.2l-5.2,5.2l-5.2,-5.2ZM923.5,250.2l5.2,5.2l-5.2,5.2l-5.2,-5.2ZM941.9,250.2l5.2,5.2l-5.2,5.2l-5.2,-5.2ZM961.7,249.9l5.2,5.2l-5.2,5.2l-5.2,-5.2ZM980.1,249.4l5.2,5.2l-5.2,5.2l-5.2,-5.2Z" fill="#f56a0c" stroke="#8f3f08" stroke-width="0.95"/>
<path d="M617.7,263.4C694.5,263.4 825.2,263.4 848,263.4C852,263.4 852.8,264.4 855,263.4C857.9,262.1 860.9,258.4 863,254.4C865.9,248.7 867.1,238.3 868.4,231.2C869.5,225.3 869.6,220.5 870.5,215C871.4,209.2 872.6,202.7 873.9,197.2C875.1,192.3 876.4,187.1 878,183.5C879.2,180.8 880.4,178.7 882,177C883.4,175.5 885.1,174.5 886.9,173.4C888.8,172.2 890.7,171 893,170C895.8,168.8 898.6,167.8 902.5,166.9C908.5,165.6 917.1,164.9 925.9,164.2C937.3,163.3 952.6,163.2 965,162.8C976.3,162.5 986.6,162.3 997.4,162" fill="none" stroke="#a900ff" stroke-width="2.6" stroke-linejoin="round" stroke-linecap="butt" clip-path="url(#cb)"/>
<path d="M617.7,262.8C693.8,262.8 822.6,262.5 846,262.8C850.2,262.9 851.6,264.3 853.5,263C855.9,261.4 856.8,256.4 858,252C859.7,245.7 860.4,236.3 861.6,228.5C862.8,220.7 864,211.9 865,205C865.8,199.6 866.4,195.7 867.1,190.4C868,184.2 869.1,176.8 869.8,170C870.5,163.3 871,157.2 871.5,150C872.1,141.6 872.4,130.9 873.1,122.5C873.6,115.4 874.2,108.6 875,103C875.6,98.7 876.3,95.5 877.2,91.8C878.1,88 879.2,83.8 880.5,80.5C881.6,77.8 882.7,75.4 884.3,73.3C885.9,71.2 887.9,69.4 890,68C892,66.7 894.2,65.9 896.6,65.1C899.2,64.2 901.9,63.7 905,63.2C908.7,62.6 912,62.3 917.2,62.2C926.2,61.9 941.3,62.7 954.1,63.1C968,63.5 983,64 997.4,64.5" fill="none" stroke="#00a000" stroke-width="2.6" stroke-linejoin="round" stroke-linecap="butt" clip-path="url(#cb)"/>
<circle cx="858.6" cy="251.6" r="4.2" fill="#008c00" stroke="#3b5a12" stroke-width="0.9"/>
<circle cx="861" cy="230.5" r="4.2" fill="#008c00" stroke="#3b5a12" stroke-width="0.9"/>
<circle cx="861.3" cy="204.7" r="4.2" fill="#008c00" stroke="#3b5a12" stroke-width="0.9"/>
<circle cx="862" cy="183.3" r="4.2" fill="#008c00" stroke="#3b5a12" stroke-width="0.9"/>
<circle cx="862" cy="161.5" r="4.2" fill="#008c00" stroke="#3b5a12" stroke-width="0.9"/>
<circle cx="863.8" cy="136.5" r="4.2" fill="#008c00" stroke="#3b5a12" stroke-width="0.9"/>
<circle cx="864.4" cy="113.3" r="4.2" fill="#008c00" stroke="#3b5a12" stroke-width="0.9"/>
<circle cx="865.9" cy="92.2" r="4.2" fill="#008c00" stroke="#3b5a12" stroke-width="0.9"/>
<circle cx="871.4" cy="73.9" r="4.2" fill="#008c00" stroke="#3b5a12" stroke-width="0.9"/>
<circle cx="880.9" cy="55.5" r="4.2" fill="#008c00" stroke="#3b5a12" stroke-width="0.9"/>
<circle cx="897.1" cy="45.6" r="4.2" fill="#008c00" stroke="#3b5a12" stroke-width="0.9"/>
<circle cx="915.1" cy="44" r="4.2" fill="#008c00" stroke="#3b5a12" stroke-width="0.9"/>
<circle cx="933.2" cy="44.6" r="4.2" fill="#008c00" stroke="#3b5a12" stroke-width="0.9"/>
<circle cx="954.1" cy="45" r="4.2" fill="#008c00" stroke="#3b5a12" stroke-width="0.9"/>
<circle cx="970.1" cy="46" r="4.2" fill="#008c00" stroke="#3b5a12" stroke-width="0.9"/>
<text x="836.8" y="50.4" fill="#00a000" font-size="18" font-weight="bold" stroke="#00a000" stroke-width="0.5" textLength="12.8" lengthAdjust="spacingAndGlyphs">H</text>
<text x="849" y="53.8" fill="#00a000" font-size="11.5" font-weight="bold" stroke="#00a000" stroke-width="0.5" textLength="6.6" lengthAdjust="spacingAndGlyphs">2</text>
<text x="914.5" y="146.9" fill="#a900ff" font-size="16" font-weight="bold" stroke="#a900ff" stroke-width="0.5" textLength="22.6" lengthAdjust="spacingAndGlyphs">CO</text>
<text x="814" y="208.5" fill="#ff6600" font-size="16" font-weight="bold" stroke="#ff6600" stroke-width="0.5" textLength="11.8" lengthAdjust="spacingAndGlyphs">H</text>
<text x="825.5" y="212.4" fill="#ff6600" font-size="11" font-weight="bold" stroke="#ff6600" stroke-width="0.5" textLength="6.2" lengthAdjust="spacingAndGlyphs">2</text>
<text x="832" y="208.5" fill="#ff6600" font-size="16" font-weight="bold" stroke="#ff6600" stroke-width="0.5" textLength="12.2" lengthAdjust="spacingAndGlyphs">O</text>
<text x="902" y="242.9" fill="#0000ff" font-size="16" font-weight="bold" stroke="#0000ff" stroke-width="0.5" textLength="22" lengthAdjust="spacingAndGlyphs">CO</text>
<text x="924.6" y="247.3" fill="#0000ff" font-size="11" font-weight="bold" stroke="#0000ff" stroke-width="0.5" textLength="6.6" lengthAdjust="spacingAndGlyphs">2</text>
<path d="M617.4,624.9C698.9,625 837.6,625.1 862,625.1C866.3,625.1 867.8,626.7 869.6,625.1C872.6,622.4 871.2,611.3 872.1,603.5C873.2,594.2 874.4,583 875.5,572.9C876.6,563.1 877.9,553.6 878.9,544C879.9,534.4 880.5,524.7 881.6,515.2C882.6,506 883.9,497.1 885.2,488C886.5,478.9 887.8,469.5 889.3,460.8C890.7,452.8 891.8,444.8 894,437.7C896,431.3 898.7,425 901.5,420C903.8,415.8 906,412.4 909.2,409.3C912.7,406 916.9,403.1 921.9,401C928,398.4 935.6,397.2 943.5,396C953,394.5 965,394.1 975.2,393.4C984.8,392.7 993.8,392.3 1003.1,391.8" fill="none" stroke="#a900ff" stroke-width="2.6" stroke-linejoin="round" stroke-linecap="butt"/>
<path d="M625.8,620.6h8.6v8.6h-8.6ZM655.4,620.1h8.6v8.6h-8.6ZM685.2,620.1h8.6v8.6h-8.6ZM714,619.4h8.6v8.6h-8.6ZM738.9,620.1h8.6v8.6h-8.6ZM768.7,619.4h8.6v8.6h-8.6ZM795.3,620.8h8.6v8.6h-8.6ZM823.1,620.1h8.6v8.6h-8.6ZM851.9,620.1h8.6v8.6h-8.6ZM866.1,598.4h8.6v8.6h-8.6ZM866.1,568.3h8.6v8.6h-8.6ZM866.1,541.4h8.6v8.6h-8.6ZM866.4,511.3h8.6v8.6h-8.6ZM868.2,485.1h8.6v8.6h-8.6ZM870,458.6h8.6v8.6h-8.6ZM873.4,431.1h8.6v8.6h-8.6ZM890,405.6h8.6v8.6h-8.6ZM916.1,391.9h8.6v8.6h-8.6ZM944.6,385.9h8.6v8.6h-8.6ZM971.2,385.9h8.6v8.6h-8.6Z" fill="#b000ff" stroke="#b000ff" stroke-width="0.3"/>
<text x="826" y="469.9" fill="#a900ff" font-size="20.5" font-weight="bold" stroke="#a900ff" stroke-width="0.5" textLength="11" lengthAdjust="spacingAndGlyphs">S</text>
<text x="836.6" y="474.3" fill="#a900ff" font-size="13" font-weight="bold" stroke="#a900ff" stroke-width="0.5" textLength="18" lengthAdjust="spacingAndGlyphs">CO</text>
</svg></body></html>
